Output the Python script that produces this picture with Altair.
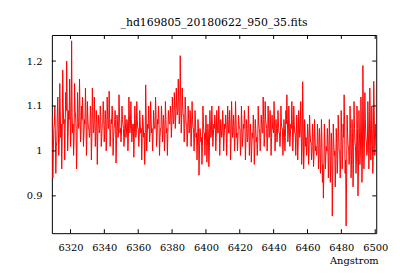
import altair as alt
import numpy as np
import pandas as pd

title_text = "_hd169805_20180622_950_35.fits"
x_label = "Angstrom"
x_ticks = [6320, 6340, 6360, 6380, 6400, 6420, 6440, 6460, 6480, 6500]
y_ticks = [0.9, 1.0, 1.1, 1.2]
wave_start, wave_end = 6309.0, 6500.6

# outer (spiky) samples
env_a = [
    1.08, 0.94, 1.05, 1.10, 0.95, 1.02, 1.12, 0.99, 1.15, 1.03,
    0.96, 1.18, 1.06, 0.98, 1.13, 1.20, 1.00, 1.09, 1.16, 1.01,
    1.245, 1.04, 0.99, 1.15, 1.08, 0.96, 1.13, 1.05, 1.16, 1.02,
    1.10, 1.12, 1.01, 1.07, 1.14, 0.99, 1.11, 1.05, 1.03, 1.10,
    0.98, 1.14, 1.04, 1.12, 1.01, 1.09,
]
env_b = [
    0.97, 1.08, 1.04, 1.10, 1.01, 1.06, 1.11, 1.02, 1.09, 1.00,
    1.12, 1.05, 1.133, 1.01, 1.07, 1.10, 0.99, 1.05, 1.09, 0.973,
    1.08, 1.03, 1.125, 1.04, 1.02, 1.10, 1.06, 1.01, 1.08, 1.03,
    1.07, 1.00, 1.12, 1.04, 1.11, 1.02, 1.06, 0.986, 1.10, 1.03,
    1.11, 1.05, 1.01, 1.09, 1.04,
]
env_c = [
    0.98, 1.08, 1.03, 0.97, 1.147, 1.00, 1.06, 1.10, 1.02, 1.11,
    1.04, 1.00, 1.09, 1.05, 1.12, 1.01, 1.07, 1.10, 0.99, 1.05,
    1.10, 1.02, 1.08, 1.00, 1.11, 1.04, 0.99, 1.09, 1.06, 1.10,
    1.03, 1.12, 1.06, 1.13, 1.05, 1.14, 1.08, 1.16, 1.06, 1.212,
    1.04, 1.14, 1.08, 1.02, 1.12, 1.06, 1.01, 1.10, 1.04, 1.09,
]
env_d = [
    1.01, 1.11, 1.05, 1.00, 1.09, 1.03, 0.98, 1.07, 0.946, 1.05,
    1.02, 0.97, 1.10, 1.04, 0.99, 1.08, 0.975, 1.06, 0.965, 1.09,
    1.03, 1.10, 1.01, 1.06, 1.08, 1.00, 1.09, 1.04, 1.10, 0.99,
    1.07, 1.03, 1.09, 1.00, 1.06, 1.08, 0.99, 1.10, 1.04, 1.09,
    0.98, 1.11, 1.03, 1.08, 1.00,
]
env_e = [
    1.11, 1.03, 1.00, 1.08, 1.05, 0.99, 1.10, 1.01, 1.06, 1.09,
    0.98, 1.07, 1.02, 1.10, 0.99, 1.06, 0.975, 1.04, 1.08, 0.97,
    1.07, 1.02, 0.99, 1.10, 1.05, 1.00, 1.08, 1.04, 1.12, 1.01,
    1.11, 1.06, 1.00, 1.10, 1.03, 1.09, 0.99, 1.08, 1.05, 1.11,
    1.00, 1.07, 1.02, 1.09, 1.04,
]
env_f = [
    1.01, 1.10, 1.05, 0.99, 1.07, 1.00, 1.09, 1.125, 1.02, 1.10,
    1.01, 1.06, 1.11, 1.00, 1.10, 1.04, 0.99, 1.08, 0.98, 1.09,
    1.03, 1.11, 0.97, 1.154, 0.96, 1.07, 1.01, 0.99, 1.06, 0.97,
    1.08, 1.02, 0.98, 1.06, 0.965, 1.07, 1.00, 0.99, 1.06, 0.96,
    1.05, 0.95, 1.07, 0.93, 0.895,
]
env_g = [
    1.06, 0.96, 1.01, 1.05, 0.94, 1.07, 0.93, 1.04, 0.855, 1.06,
    0.99, 0.92, 1.05, 0.95, 1.08, 1.00, 0.94, 1.09, 0.96, 1.06,
    1.125, 0.95, 0.833, 1.08, 1.01, 0.97, 1.10, 0.94, 1.07, 0.92,
    1.11, 1.02, 0.95, 1.10, 0.90, 1.09, 0.97, 1.12, 0.93, 1.19,
    0.96, 1.13, 1.03, 0.99, 1.11, 0.96, 1.14, 0.98, 1.10, 0.95,
    1.155, 0.99, 1.06,
]

# inner (core) samples
core_a = [
    1.02, 1.00, 1.06, 1.04, 1.01, 1.08, 1.05, 1.03, 1.09, 1.06,
    1.04, 1.10, 1.07, 1.05, 1.09, 1.11, 1.04, 1.07, 1.10, 1.05,
    1.08, 1.06, 1.03, 1.09, 1.05, 1.02, 1.08, 1.06, 1.09, 1.04,
    1.07, 1.08, 1.04, 1.06, 1.09, 1.03, 1.07, 1.05, 1.04, 1.08,
    1.03, 1.08, 1.05, 1.07, 1.04, 1.06,
]
core_b = [
    1.04, 1.06, 1.05, 1.08, 1.03, 1.06, 1.08, 1.04, 1.07, 1.03,
    1.08, 1.05, 1.07, 1.04, 1.06, 1.08, 1.03, 1.06, 1.07, 1.02,
    1.06, 1.04, 1.08, 1.05, 1.04, 1.07, 1.05, 1.03, 1.06, 1.04,
    1.06, 1.03, 1.08, 1.05, 1.07, 1.04, 1.06, 1.03, 1.07, 1.04,
    1.07, 1.05, 1.03, 1.06, 1.05,
]
core_c = [
    1.03, 1.06, 1.04, 1.02, 1.08, 1.03, 1.05, 1.07, 1.04, 1.07,
    1.05, 1.03, 1.06, 1.05, 1.08, 1.03, 1.06, 1.07, 1.03, 1.05,
    1.07, 1.04, 1.06, 1.03, 1.07, 1.05, 1.04, 1.07, 1.06, 1.08,
    1.06, 1.09, 1.07, 1.10, 1.08, 1.10, 1.09, 1.11, 1.08, 1.12,
    1.07, 1.10, 1.08, 1.05, 1.09, 1.06, 1.04, 1.07, 1.05, 1.06,
]
core_d = [
    1.04, 1.07, 1.05, 1.03, 1.06, 1.04, 1.02, 1.05, 1.00, 1.04,
    1.03, 1.01, 1.06, 1.04, 1.02, 1.05, 1.01, 1.04, 1.00, 1.06,
    1.04, 1.06, 1.03, 1.05, 1.06, 1.03, 1.06, 1.04, 1.07, 1.03,
    1.05, 1.04, 1.06, 1.03, 1.05, 1.06, 1.03, 1.07, 1.04, 1.06,
    1.03, 1.07, 1.04, 1.06, 1.03,
]
core_e = [
    1.07, 1.04, 1.03, 1.06, 1.05, 1.02, 1.06, 1.03, 1.05, 1.06,
    1.02, 1.05, 1.03, 1.06, 1.02, 1.04, 1.01, 1.03, 1.05, 1.01,
    1.05, 1.03, 1.02, 1.06, 1.04, 1.03, 1.06, 1.04, 1.07, 1.03,
    1.07, 1.05, 1.03, 1.06, 1.04, 1.06, 1.03, 1.05, 1.04, 1.07,
    1.03, 1.05, 1.04, 1.06, 1.04,
]
core_f = [
    1.03, 1.06, 1.05, 1.03, 1.05, 1.03, 1.06, 1.07, 1.04, 1.06,
    1.03, 1.05, 1.07, 1.03, 1.06, 1.04, 1.03, 1.05, 1.02, 1.06,
    1.04, 1.06, 1.01, 1.07, 1.00, 1.04, 1.03, 1.01, 1.04, 1.00,
    1.04, 1.02, 1.00, 1.03, 0.99, 1.03, 1.01, 1.00, 1.03, 0.99,
    1.02, 0.98, 1.03, 0.97, 0.96,
]
core_g = [
    1.02, 0.99, 1.00, 1.02, 0.98, 1.03, 0.97, 1.01, 0.95, 1.02,
    1.00, 0.97, 1.02, 0.98, 1.04, 1.00, 0.98, 1.04, 0.99, 1.03,
    1.06, 0.98, 0.94, 1.04, 1.01, 0.99, 1.05, 0.98, 1.03, 0.97,
    1.05, 1.01, 0.98, 1.05, 0.96, 1.04, 1.00, 1.06, 0.98, 1.08,
    1.00, 1.07, 1.02, 1.00, 1.06, 1.00, 1.07, 1.01, 1.05, 0.99,
    1.08, 1.01, 1.03,
]

env = env_a + env_b + env_c + env_d + env_e + env_f + env_g
core = core_a + core_b + core_c + core_d + core_e + core_f + core_g
flux = [v for pair in zip(env, core) for v in pair]
wave = np.linspace(wave_start, wave_end, len(flux))
df = pd.DataFrame({"w": wave, "f": flux})
xt = pd.DataFrame({"w": x_ticks})
yt = pd.DataFrame({"f": y_ticks})

FONT = "DejaVu Serif"
W, H = 329, 201
TL = 4
xscale = alt.Scale(domain=[wave_start, wave_end], nice=False, zero=False)
yscale = alt.Scale(domain=[0.817, 1.258], nice=False, zero=False)

common = dict(domain=False, grid=False, ticks=False,
              labelFont=FONT, labelFontSize=10, labelColor="black")

line = alt.Chart(df).mark_line(color="#ff0000", strokeWidth=1, clip=True).encode(
    x=alt.X("w:Q", scale=xscale,
            axis=alt.Axis(orient="bottom", values=x_ticks, format="d", labelPadding=10,
                          title=x_label, titleFont=FONT, titleFontSize=10,
                          titleFontWeight="normal", titleColor="black",
                          titleX=331, titleY=28, titleAlign="right",
                          titleBaseline="middle", labelFlush=False, **common)),
    y=alt.Y("f:Q", scale=yscale,
            axis=alt.Axis(orient="left", values=y_ticks, format=".1~f", labelPadding=10,
                          title=None, **common)),
)

tick_top = alt.Chart(xt).mark_rule(color="black", strokeWidth=1).encode(
    x=alt.X("w:Q", scale=xscale, axis=None), y=alt.value(0), y2=alt.value(TL))
tick_bottom = alt.Chart(xt).mark_rule(color="black", strokeWidth=1).encode(
    x=alt.X("w:Q", scale=xscale, axis=None), y=alt.value(H), y2=alt.value(H - TL))
tick_left = alt.Chart(yt).mark_rule(color="black", strokeWidth=1).encode(
    y=alt.Y("f:Q", scale=yscale, axis=None), x=alt.value(0), x2=alt.value(TL))
tick_right = alt.Chart(yt).mark_rule(color="black", strokeWidth=1).encode(
    y=alt.Y("f:Q", scale=yscale, axis=None), x=alt.value(W), x2=alt.value(W - TL))

chart = alt.layer(line, tick_top, tick_bottom, tick_left, tick_right).resolve_axis(
    x="independent", y="independent"
).properties(
    width=W, height=H,
    autosize=alt.AutoSizeParams(type="none"),
    padding={"left": 44.5, "top": 25.5, "right": 16, "bottom": 37.5},
    title=alt.TitleParams(title_text, font=FONT, fontSize=11, fontWeight="normal",
                          color="black", anchor="middle", offset=7),
).configure_view(stroke="#000000", strokeWidth=1, strokeOpacity=1)

chart.save("out.html", embed_options={"renderer": "svg", "actions": False})
